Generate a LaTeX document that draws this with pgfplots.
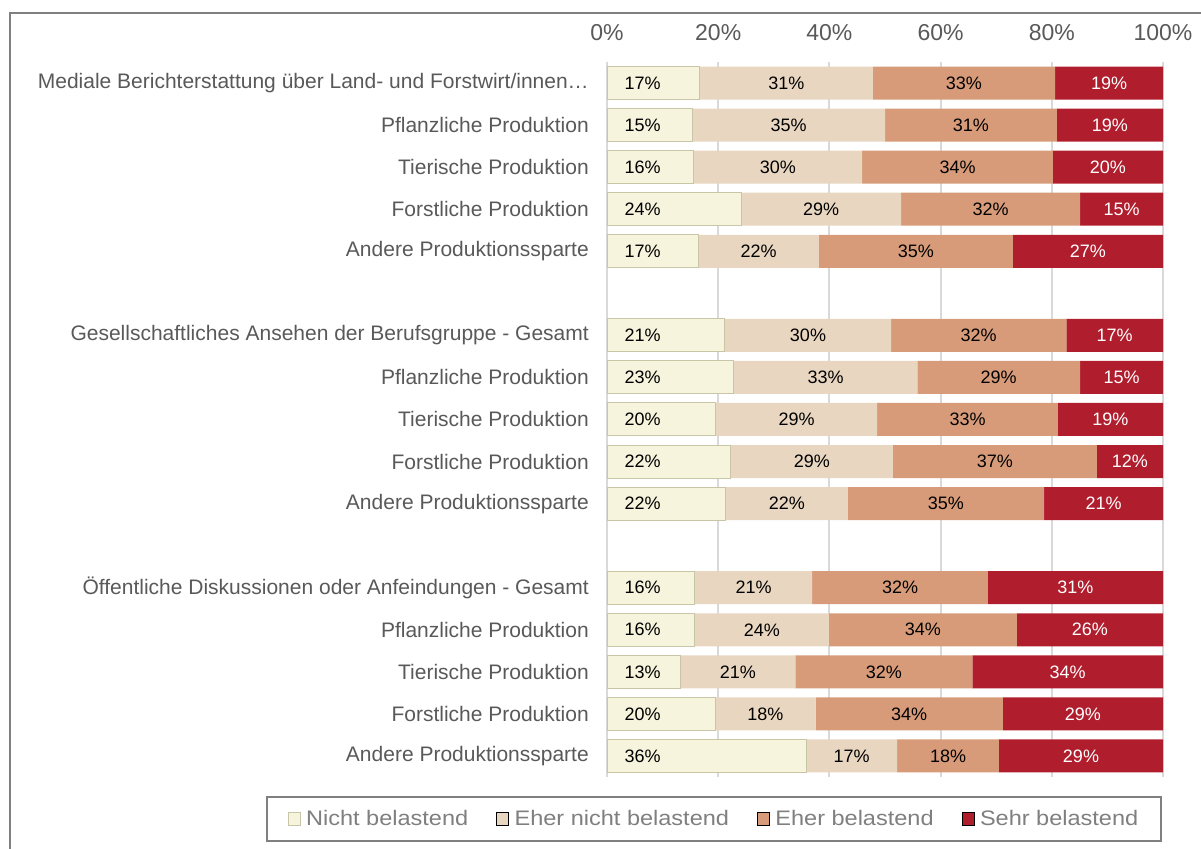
\documentclass[border=0pt]{standalone}
\usepackage{fontspec}
\setmainfont{Liberation Sans}
\newfontfamily\legendfont[FakeStretch=1.12]{Liberation Sans}
\usepackage{pgfplots}
\pgfplotsset{compat=1.18}
\definecolor{c1}{HTML}{F6F4DC}
\definecolor{c1b}{HTML}{C9C6A8}
\definecolor{c2}{HTML}{E8D6C0}
\definecolor{c3}{HTML}{D79B7A}
\definecolor{c4}{HTML}{B01E2E}
\definecolor{txt}{HTML}{595959}
\definecolor{legtxt}{HTML}{7F7F7F}
\definecolor{grd}{HTML}{D9D9D9}
\definecolor{frm}{HTML}{808080}

\begin{document}
\begin{tikzpicture}[x=1bp,y=1bp]
\useasboundingbox (0,0) rectangle (1201,849);
\draw[frm, line width=2.5bp] (10,-5) -- (10,836) -- (1210,836);
\begin{axis}[
  at={(607bp,72bp)}, anchor=south west,
  scale only axis, width=556bp, height=715bp,
  xbar stacked, bar width=33bp,
  xmin=0, xmax=100, ymin=0.5, ymax=17.5,
  axis line style={draw=none}, major tick length=0pt,
  xtick={0,20,...,100}, xticklabels={0\%,20\%,40\%,60\%,80\%,100\%},
  xticklabel pos=upper,
  xticklabel style={font=\fontsize{23bp}{26bp}\selectfont, text=txt, anchor=center, yshift=29bp},
  ytick={1,2,3,4,5,7,8,9,10,11,13,14,15,16,17},
  yticklabels={Andere Produktionssparte, Forstliche Produktion, Tierische Produktion, Pflanzliche Produktion,
    Öffentliche Diskussionen oder Anfeindungen - Gesamt,
    Andere Produktionssparte, Forstliche Produktion, Tierische Produktion, Pflanzliche Produktion,
    Gesellschaftliches Ansehen der Berufsgruppe - Gesamt,
    Andere Produktionssparte, Forstliche Produktion, Tierische Produktion, Pflanzliche Produktion,
    Mediale Berichterstattung über Land- und Forstwirt/innen…},
  yticklabel style={font=\fontsize{21bp}{24bp}\selectfont, text=txt, inner sep=0pt, xshift=-18bp},
  xmajorgrids, major grid style={grd, line width=2bp},
  point meta=explicit symbolic,
  every node near coord/.append style={font=\fontsize{18bp}{20bp}\selectfont, text=black, anchor=center},
  legend columns=4,
  legend style={at={(0.1924,-0.0587)}, anchor=center, draw=frm, line width=2bp,
    inner xsep=21bp, inner ysep=12bp, text=legtxt,
    font=\legendfont\fontsize{21bp}{23bp}\selectfont,
    /tikz/every even column/.append style={column sep=26bp}},
  legend cell align=left,
  legend image code/.code={\draw[#1, line width=0.8bp] (0bp,-6.5bp) rectangle (12bp,6.5bp);
    \path[draw=none, fill=none] (0bp,0bp) -- (16bp,0bp);},
]
\addplot[fill=c1, draw=c1b, line width=1bp, nodes near coords,
  visualization depends on={rawx \as \rawx},
  every node near coord/.append style={anchor=west, inner sep=0pt, xshift={17bp-\rawx*2.78bp}}]
  coordinates {(16.7,17)[17\%] (15.3,16)[15\%] (15.6,15)[16\%] (24.1,14)[24\%] (16.4,13)[17\%]
    (21.2,11)[21\%] (22.8,10)[23\%] (19.6,9)[20\%] (22.3,8)[22\%] (21.4,7)[22\%]
    (15.8,5)[16\%] (15.8,4)[16\%] (13.2,3)[13\%] (19.5,2)[20\%] (35.8,1)[36\%]};
\addlegendentry{Nicht belastend}
\addplot[fill=c2, draw=none, nodes near coords]
  coordinates {(31.1,17)[31\%] (34.7,16)[35\%] (30.3,15)[30\%] (28.8,14)[29\%] (21.7,13)[22\%]
    (29.9,11)[30\%] (33.0,10)[33\%] (29.0,9)[29\%] (29.1,8)[29\%] (21.9,7)[22\%]
    (21.1,5)[21\%] (24.1,4)[24\%] (20.7,3)[21\%] (18.0,2)[18\%] (16.4,1)[17\%]};
\addlegendentry{Eher nicht belastend}
\addplot[fill=c3, draw=none, nodes near coords]
  coordinates {(32.8,17)[33\%] (30.9,16)[31\%] (34.3,15)[34\%] (32.2,14)[32\%] (34.9,13)[35\%]
    (31.5,11)[32\%] (29.3,10)[29\%] (32.5,9)[33\%] (36.7,8)[37\%] (35.3,7)[35\%]
    (31.6,5)[32\%] (33.8,4)[34\%] (31.8,3)[32\%] (33.7,2)[34\%] (18.3,1)[18\%]};
\addlegendentry{Eher belastend}
\addplot[fill=c4, draw=none, nodes near coords,
  every node near coord/.append style={text=white}]
  coordinates {(19.4,17)[19\%] (19.1,16)[19\%] (19.8,15)[20\%] (14.9,14)[15\%] (27.0,13)[27\%]
    (17.4,11)[17\%] (14.9,10)[15\%] (18.9,9)[19\%] (11.9,8)[12\%] (21.4,7)[21\%]
    (31.5,5)[31\%] (26.3,4)[26\%] (34.3,3)[34\%] (28.8,2)[29\%] (29.5,1)[29\%]};
\addlegendentry{Sehr belastend}
\end{axis}
\end{tikzpicture}
\end{document}
